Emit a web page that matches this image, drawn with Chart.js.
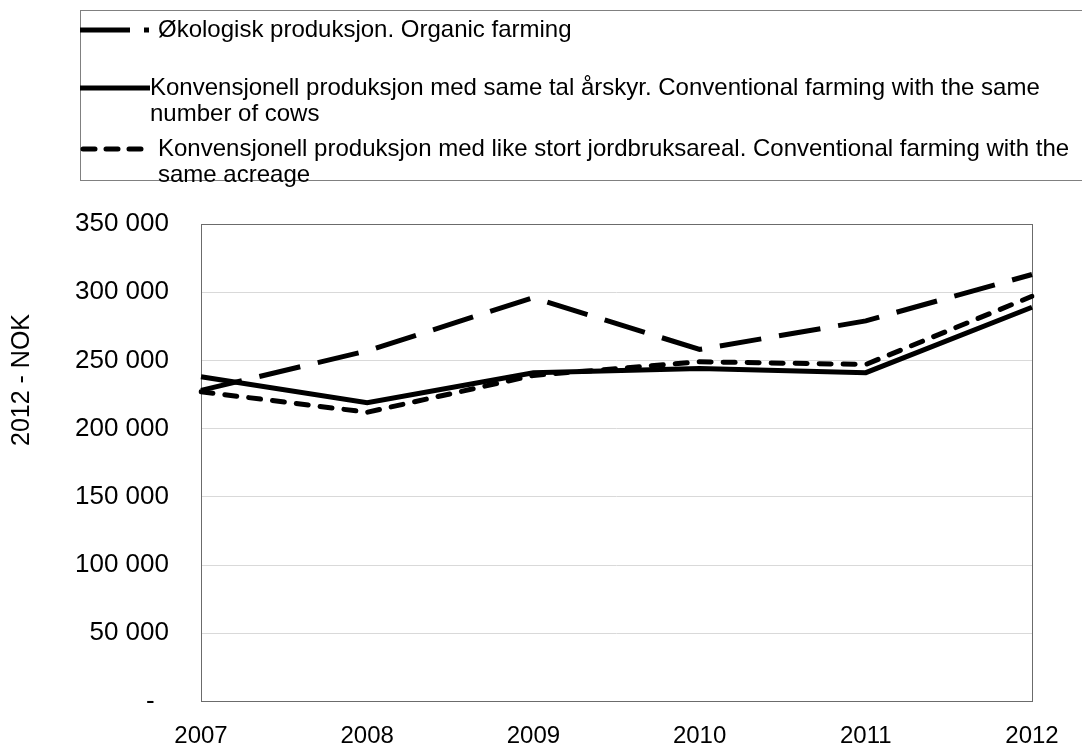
<!DOCTYPE html>
<html>
<head>
<meta charset="utf-8">
<script src="https://cdn.jsdelivr.net/npm/chart.js@4"></script>
<style>
  html, body { margin: 0; padding: 0; background: #fff; }
  #wrap { width: 1082px; height: 749px; }
</style>
</head>
<body>
<div id="wrap"><canvas id="myChart" width="1082" height="749"></canvas></div>
<script>
// values, 2012-NOK
const years = ["2007", "2008", "2009", "2010", "2011", "2012"];
const organic = [228000, 257000, 296000, 258000, 279000, 313000];
const sameCows = [238000, 219000, 241000, 244000, 241000, 289000];
const sameArea = [227000, 212000, 239000, 249000, 247000, 297000];
const yTicks = [0, 50000, 100000, 150000, 200000, 250000, 300000, 350000];

const legendItems = [
    { lines: ["Økologisk produksjon. Organic farming"], dash: [50, 14], cap: 'butt', y: 30, textX: 158, end: 149 },
    { lines: ["Konvensjonell produksjon med same tal årskyr. Conventional farming with the same", "number of cows"], dash: [], cap: 'butt', y: 88, textX: 150, end: 150 },
    { lines: ["Konvensjonell produksjon med like stort jordbruksareal. Conventional farming with the", "same acreage"], dash: [12, 11], cap: 'round', y: 149, textX: 158, end: 148 }
];

const FONT = "'Liberation Sans', Arial, sans-serif";

function fmt(v) {
    if (v === 0) return "-  ";
    return String(v).replace(/\B(?=(\d{3})+(?!\d))/g, " ");
}

// legend box, plot frame and rotated axis title
const extras = {
    id: 'extras',
    beforeDatasetsDraw(chart) {
        const { ctx, chartArea: a } = chart;
        ctx.save();
        ctx.strokeStyle = '#6b6b6b';
        ctx.lineWidth = 1;
        ctx.strokeRect(Math.round(a.left) + 0.5, Math.round(a.top) + 0.5,
            Math.round(a.right - a.left), Math.round(a.bottom - a.top));
        ctx.restore();
    },
    afterDraw(chart) {
        const ctx = chart.ctx;
        ctx.save();
        ctx.strokeStyle = '#808080';
        ctx.lineWidth = 1;
        ctx.strokeRect(80.5, 10.5, 1030, 170);

        ctx.font = "24px " + FONT;
        ctx.fillStyle = '#000';
        ctx.strokeStyle = '#000';
        ctx.textBaseline = 'middle';
        legendItems.forEach(it => {
            ctx.beginPath();
            ctx.lineWidth = 5;
            ctx.lineCap = it.cap;
            ctx.setLineDash(it.dash);
            ctx.moveTo(it.cap === 'round' ? 83 : 80, it.y);
            ctx.lineTo(it.end, it.y);
            ctx.stroke();
            ctx.setLineDash([]);
            it.lines.forEach((t, i) => ctx.fillText(t, it.textX, it.y + i * 26));
        });

        ctx.translate(22, 380);
        ctx.rotate(-Math.PI / 2);
        ctx.textAlign = 'center';
        ctx.font = "25px " + FONT;
        ctx.fillText("2012 - NOK", 0, 0);
        ctx.restore();
    }
};

const ctx = document.getElementById('myChart');
new Chart(ctx, {
    type: 'line',
    data: {
        labels: years,
        datasets: [
            {
                label: 'Økologisk produksjon. Organic farming',
                data: organic,
                borderColor: '#000',
                borderWidth: 5,
                borderDash: [42, 18],
                borderCapStyle: 'butt',
                pointRadius: 0,
                tension: 0
            },
            {
                label: 'Konvensjonell produksjon med same tal årskyr. Conventional farming with the same number of cows',
                data: sameCows,
                borderColor: '#000',
                borderWidth: 5,
                pointRadius: 0,
                tension: 0
            },
            {
                label: 'Konvensjonell produksjon med like stort jordbruksareal. Conventional farming with the same acreage',
                data: sameArea,
                borderColor: '#000',
                borderWidth: 5,
                borderDash: [12, 12],
                borderCapStyle: 'round',
                pointRadius: 0,
                tension: 0
            }
        ]
    },
    options: {
        responsive: false,
        animation: false,
        layout: {
            padding: { top: 224, right: 50, bottom: 0, left: 0 }
        },
        plugins: {
            legend: { display: false },
            tooltip: { enabled: false }
        },
        scales: {
            x: {
                offset: false,
                grid: { display: false, drawTicks: false },
                border: { display: false },
                ticks: {
                    color: '#000',
                    padding: 21,
                    maxRotation: 0,
                    font: { family: FONT, size: 24 }
                },
                afterFit: s => { s.height = 44; }
            },
            y: {
                min: 0,
                max: 350000,
                afterBuildTicks: s => { s.ticks = yTicks.map(v => ({ value: v })); },
                grid: { color: '#d9d9d9', drawTicks: false },
                border: { display: false },
                ticks: {
                    color: '#000',
                    padding: 32,
                    font: { family: FONT, size: 26 },
                    callback: v => fmt(v)
                },
                afterFit: s => { s.width = 201; }
            }
        }
    },
    plugins: [extras]
});
</script>
</body>
</html>
